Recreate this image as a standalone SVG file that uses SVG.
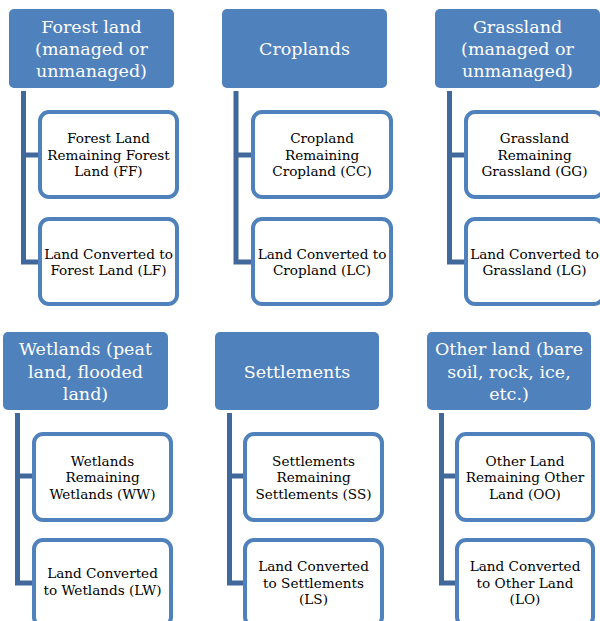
<svg xmlns="http://www.w3.org/2000/svg" width="600" height="621" viewBox="0 0 600 621">
<style>
.hdr{fill:#4F81BD;}
.ht{fill:#FFFFFF;font-family:"DejaVu Serif","Liberation Serif",serif;font-size:17.5px;text-anchor:middle;}
.box{fill:#FFFFFF;stroke:#4F81BD;stroke-width:4;}
.ct{fill:#000000;font-family:"DejaVu Serif","Liberation Serif",serif;font-size:13.6px;text-anchor:middle;}
.con{fill:none;stroke:#41689B;stroke-width:5;stroke-linejoin:miter;}
</style>
<rect width="600" height="621" fill="#FFFFFF"/>
<g id="connectors">
<path class="con" d="M23.5,91 V262 H40 M23.5,155 H40"/>
<path class="con" d="M236,91 V262 H253 M236,155 H253"/>
<path class="con" d="M449.5,91 V262 H466 M449.5,155 H466"/>
<path class="con" d="M17.5,413 V583 H34 M17.5,476 H34"/>
<path class="con" d="M229.5,413 V583 H245 M229.5,476 H245"/>
<path class="con" d="M441.5,413 V583 H457 M441.5,476 H457"/>
</g>
<g id="forest">
<rect class="hdr" x="9" y="9" width="165" height="79" rx="5"/>
<text class="ht" x="91.5" y="33">Forest land</text>
<text class="ht" x="91.5" y="55">(managed or</text>
<text class="ht" x="91.5" y="77">unmanaged)</text>
</g>
<g id="ff">
<rect class="box" x="40" y="112" width="137" height="85" rx="9"/>
<text class="ct" x="108.5" y="143">Forest Land</text>
<text class="ct" x="108.5" y="159.5">Remaining Forest</text>
<text class="ct" x="108.5" y="176">Land (FF)</text>
</g>
<g id="lf">
<rect class="box" x="40" y="219" width="137" height="85" rx="9"/>
<text class="ct" x="108.5" y="258.5">Land Converted to</text>
<text class="ct" x="108.5" y="275">Forest Land (LF)</text>
</g>
<g id="croplands">
<rect class="hdr" x="222" y="9" width="165" height="79" rx="5"/>
<text class="ht" x="304.5" y="55">Croplands</text>
</g>
<g id="cc">
<rect class="box" x="253" y="112" width="138" height="85" rx="9"/>
<text class="ct" x="322" y="143">Cropland</text>
<text class="ct" x="322" y="159.5">Remaining</text>
<text class="ct" x="322" y="176">Cropland (CC)</text>
</g>
<g id="lc">
<rect class="box" x="253" y="219" width="138" height="85" rx="9"/>
<text class="ct" x="322" y="258.5">Land Converted to</text>
<text class="ct" x="322" y="275">Cropland (LC)</text>
</g>
<g id="grassland">
<rect class="hdr" x="435" y="9" width="165" height="79" rx="5"/>
<text class="ht" x="517.5" y="33">Grassland</text>
<text class="ht" x="517.5" y="55">(managed or</text>
<text class="ht" x="517.5" y="77">unmanaged)</text>
</g>
<g id="gg">
<rect class="box" x="466" y="112" width="137" height="85" rx="9"/>
<text class="ct" x="534.5" y="143">Grassland</text>
<text class="ct" x="534.5" y="159.5">Remaining</text>
<text class="ct" x="534.5" y="176">Grassland (GG)</text>
</g>
<g id="lg">
<rect class="box" x="466" y="219" width="137" height="85" rx="9"/>
<text class="ct" x="534.5" y="258.5">Land Converted to</text>
<text class="ct" x="534.5" y="275">Grassland (LG)</text>
</g>
<g id="wetlands">
<rect class="hdr" x="3" y="332" width="165" height="78" rx="5"/>
<text class="ht" x="85.5" y="355">Wetlands (peat</text>
<text class="ht" x="85.5" y="377.5">land, flooded</text>
<text class="ht" x="85.5" y="400">land)</text>
</g>
<g id="ww">
<rect class="box" x="34" y="434" width="137" height="86" rx="9"/>
<text class="ct" x="102.5" y="465.5">Wetlands</text>
<text class="ct" x="102.5" y="482">Remaining</text>
<text class="ct" x="102.5" y="498.5">Wetlands (WW)</text>
</g>
<g id="lw">
<rect class="box" x="34" y="540" width="137" height="86" rx="9"/>
<text class="ct" x="102.5" y="578">Land Converted</text>
<text class="ct" x="102.5" y="594.5">to Wetlands (LW)</text>
</g>
<g id="settlements">
<rect class="hdr" x="215" y="332" width="164" height="78" rx="5"/>
<text class="ht" x="297" y="377.5">Settlements</text>
</g>
<g id="ss">
<rect class="box" x="245" y="434" width="137" height="86" rx="9"/>
<text class="ct" x="313.5" y="465.5">Settlements</text>
<text class="ct" x="313.5" y="482">Remaining</text>
<text class="ct" x="313.5" y="498.5">Settlements (SS)</text>
</g>
<g id="ls">
<rect class="box" x="245" y="540" width="137" height="86" rx="9"/>
<text class="ct" x="313.5" y="571">Land Converted</text>
<text class="ct" x="313.5" y="587.5">to Settlements</text>
<text class="ct" x="313.5" y="604">(LS)</text>
</g>
<g id="otherland">
<rect class="hdr" x="427" y="332" width="164" height="78" rx="5"/>
<text class="ht" x="509" y="355">Other land (bare</text>
<text class="ht" x="509" y="377.5">soil, rock, ice,</text>
<text class="ht" x="509" y="400">etc.)</text>
</g>
<g id="oo">
<rect class="box" x="457" y="434" width="136" height="86" rx="9"/>
<text class="ct" x="525" y="465.5">Other Land</text>
<text class="ct" x="525" y="482">Remaining Other</text>
<text class="ct" x="525" y="498.5">Land (OO)</text>
</g>
<g id="lo">
<rect class="box" x="457" y="540" width="136" height="86" rx="9"/>
<text class="ct" x="525" y="571">Land Converted</text>
<text class="ct" x="525" y="587.5">to Other Land</text>
<text class="ct" x="525" y="604">(LO)</text>
</g>
</svg>
